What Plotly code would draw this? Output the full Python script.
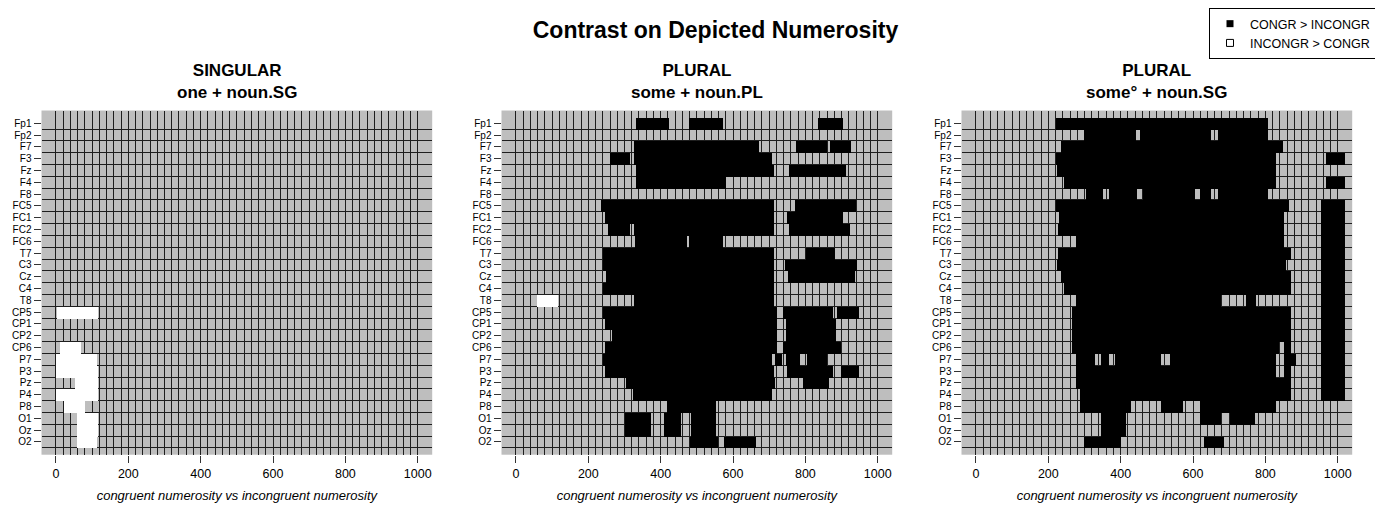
import plotly.graph_objects as go

# ---------------- data ----------------
channels = ["Fp1", "Fp2", "F7", "F3", "Fz", "F4", "F8", "FC5", "FC1", "FC2", "FC6",
            "T7", "C3", "Cz", "C4", "T8", "CP5", "CP1", "CP2", "CP6", "P7", "P3",
            "Pz", "P4", "P8", "O1", "Oz", "O2"]

x_ticks = [0, 200, 400, 600, 800, 1000]
time_bins = list(range(0, 1001, 20))   # 20 ms analysis windows (grid)

panel_titles = ["SINGULAR<br>one + noun.SG",
                "PLURAL<br>some + noun.PL",
                "PLURAL<br>some\u00b0 + noun.SG"]

# significant runs (ms): CONGR > INCONGR (black) / INCONGR > CONGR (white)
sg_pos = {}
sg_neg = {
    "CP5": [(2, 114)],
    "CP6": [(9, 69)],
    "P7": [(0, 112)],
    "P3": [(0, 114)],
    "Pz": [(50, 114)],
    "P4": [(0, 114)],
    "P8": [(20, 80)],
    "O1": [(57, 114)],
    "Oz": [(57, 114)],
    "O2": [(57, 112)],
}

pl_pos = {
    "Fp1": [(331, 421), (477, 570), (833, 902)],
    "F7": [(324, 670), (774, 859), (866, 926)],
    "F3": [(258, 314), (326, 707)],
    "Fz": [(331, 713), (753, 911)],
    "F4": [(331, 580)],
    "FC5": [(235, 713), (771, 939)],
    "FC1": [(246, 713), (748, 903)],
    "FC2": [(253, 315), (324, 713), (753, 922)],
    "FC6": [(329, 470), (478, 571)],
    "T7": [(240, 713), (801, 880)],
    "C3": [(240, 713), (742, 942)],
    "Cz": [(248, 713), (750, 937)],
    "C4": [(240, 711)],
    "T8": [(326, 711)],
    "CP5": [(240, 719), (738, 876), (885, 946)],
    "CP1": [(246, 719), (744, 882)],
    "CP2": [(263, 719), (744, 882)],
    "CP6": [(246, 719), (738, 896)],
    "P7": [(240, 705), (716, 735), (746, 785), (802, 857)],
    "P3": [(246, 711), (749, 876), (896, 946)],
    "Pz": [(304, 716), (791, 863)],
    "P4": [(323, 705)],
    "P8": [(417, 552)],
    "O1": [(301, 373), (409, 456), (482, 552)],
    "Oz": [(301, 373), (409, 456), (482, 552)],
    "O2": [(481, 558), (575, 661)],
}
pl_neg = {"T8": [(58, 116)]}

sgx_pos = {
    "Fp1": [(220, 807)],
    "Fp2": [(297, 442), (453, 647), (669, 807)],
    "F7": [(235, 846)],
    "F3": [(220, 827), (965, 1020)],
    "Fz": [(223, 827)],
    "F4": [(241, 827), (965, 1020)],
    "F8": [(304, 351), (365, 445), (459, 603), (617, 647), (669, 807)],
    "FC5": [(220, 863), (951, 1020)],
    "FC1": [(229, 849), (951, 1020)],
    "FC2": [(226, 849), (951, 1020)],
    "FC6": [(274, 849), (951, 1020)],
    "T7": [(226, 869), (951, 1020)],
    "C3": [(223, 855), (951, 1020)],
    "Cz": [(235, 869), (951, 1020)],
    "C4": [(241, 869), (951, 1020)],
    "T8": [(274, 675), (746, 774), (951, 1020)],
    "CP5": [(263, 869), (951, 1020)],
    "CP1": [(263, 869), (951, 1020)],
    "CP2": [(263, 869), (951, 1020)],
    "CP6": [(263, 835), (849, 869), (951, 1020)],
    "P7": [(274, 329), (343, 365), (384, 509), (536, 827), (849, 882), (951, 1020)],
    "P3": [(274, 827), (849, 869), (951, 1020)],
    "Pz": [(274, 869), (951, 1020)],
    "P4": [(285, 869), (951, 1020)],
    "P8": [(285, 426), (509, 570), (619, 827)],
    "O1": [(343, 412), (619, 675), (702, 771)],
    "Oz": [(343, 412)],
    "O2": [(297, 400), (630, 683)],
}
sgx_neg = {}

panels = [(sg_pos, sg_neg), (pl_pos, pl_neg), (sgx_pos, sgx_neg)]

# ---------------- layout helpers ----------------
OFF = 8                      # page body margin of the html page
W, H = 1383 - OFF, 506 - OFF
FONT = "Liberation Sans, Arial, Helvetica, sans-serif"
GRID = "#1e1e1e"


def px_x(p):
    return (p - OFF) / W


def px_y(p):
    return 1 - (p - OFF) / H


def run_bar(runs, color, k):
    ys, bases, lens = [], [], []
    for ch, segs in runs.items():
        for s, e in segs:
            ys.append(channels.index(ch) + 1)
            bases.append(s)
            lens.append(e - s)
    return go.Bar(orientation="h", y=ys, x=lens, base=bases, width=1,
                  marker=dict(color=color, line=dict(width=0)),
                  xaxis="x" if k == 0 else f"x{k+1}",
                  yaxis="y" if k == 0 else f"y{k+1}",
                  showlegend=False, hoverinfo="skip")


fig = go.Figure()
for k, (pos, neg) in enumerate(panels):
    if pos:
        fig.add_trace(run_bar(pos, "black", k))
    if neg:
        fig.add_trace(run_bar(neg, "white", k))

# legend entries
fig.add_trace(go.Scatter(x=[None], y=[None], mode="markers", name="CONGR > INCONGR",
                         marker=dict(symbol="square", size=7, color="black")))
fig.add_trace(go.Scatter(x=[None], y=[None], mode="markers", name="INCONGR > CONGR",
                         marker=dict(symbol="square-open", size=7, color="black",
                                     line=dict(width=1, color="black"))))

y_lo, y_hi = 107.3, 454.3
annotations = []
for k in range(3):
    left = 41.5 + 460 * k
    right = 432.2 + 460 * k
    xa = "xaxis" if k == 0 else f"xaxis{k+1}"
    ya = "yaxis" if k == 0 else f"yaxis{k+1}"
    yref = "y" if k == 0 else f"y{k+1}"
    xref = "x" if k == 0 else f"x{k+1}"
    fig.layout[xa] = dict(
        domain=[px_x(left), px_x(right)], range=[-40, 1040], anchor=yref,
        tickmode="array", tickvals=x_ticks, ticks="outside", ticklen=7,
        tickcolor="#333", tickwidth=1,
        showgrid=True, gridcolor=GRID, gridwidth=1, zeroline=False,
        showline=False, automargin=False,
        minor=dict(tickmode="array", tickvals=time_bins, showgrid=True,
                   gridcolor=GRID, gridwidth=1, ticks=""),
        tickfont=dict(size=12.5, color="black", family=FONT),
        title=dict(text="<i>congruent numerosity vs incongruent numerosity</i>",
                   font=dict(size=13, color="black", family=FONT), standoff=11),
    )
    fig.layout[ya] = dict(
        domain=[px_y(y_hi), px_y(y_lo)], range=[29.08, -0.08], anchor=xref,
        tickmode="array", tickvals=list(range(1, len(channels) + 1)), ticktext=channels,
        ticks="outside", ticklen=7, tickcolor="#333", tickwidth=1,
        showgrid=False, zeroline=False, showline=False, automargin=False,
        minor=dict(tickmode="array", tickvals=[i + 0.5 for i in range(1, len(channels) + 1)],
                   showgrid=True, gridcolor=GRID, gridwidth=1, ticks=""),
        tickfont=dict(size=10, color="black", family=FONT),
    )
    annotations.append(dict(
        text="<b>" + panel_titles[k].replace("<br>", "</b><br><b>") + "</b>",
        x=px_x((left + right) / 2), y=px_y(78.5), xref="paper", yref="paper",
        xanchor="center", yanchor="middle", showarrow=False,
        font=dict(size=17, color="black", family=FONT)))

fig.update_layout(
    width=W, height=H,
    margin=dict(l=0, r=0, t=0, b=0),
    paper_bgcolor="white", plot_bgcolor="#BEBEBE",
    barmode="overlay", bargap=0,
    font=dict(family=FONT, color="black"),
    title=dict(text="<b>Contrast on Depicted Numerosity</b>", x=px_x(715.5), xanchor="center",
               y=px_y(26), yanchor="middle", xref="paper", yref="paper",
               font=dict(size=23, color="black", family=FONT)),
    annotations=annotations,
    showlegend=True,
    legend=dict(x=px_x(1376), xanchor="right", y=px_y(4), yanchor="top",
                bordercolor="black", borderwidth=1, bgcolor="white",
                font=dict(size=12.5, color="black", family=FONT),
                itemwidth=30, tracegroupgap=0),
)

fig.write_html("out.html")
